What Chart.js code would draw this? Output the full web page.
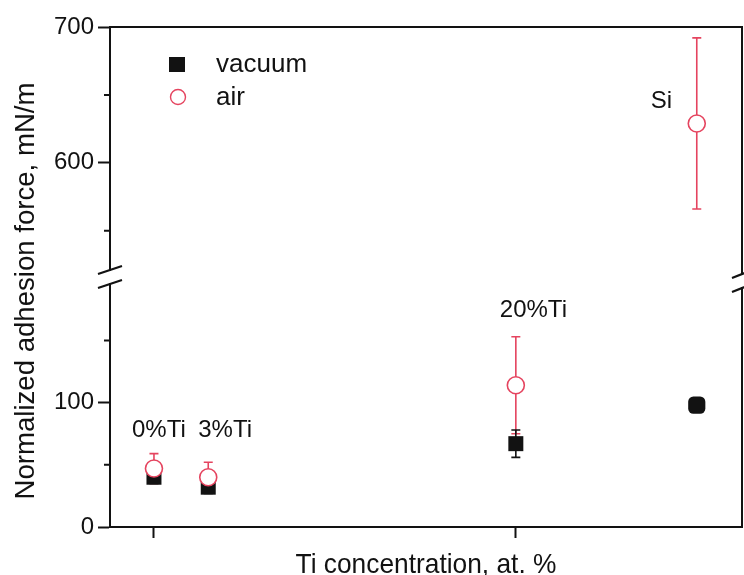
<!DOCTYPE html>
<html><head><meta charset="utf-8">
<script src="https://cdn.jsdelivr.net/npm/chart.js@4"></script>
<style>html,body{margin:0;padding:0;background:#fff}#wrap{width:744px;height:575px}</style>
</head><body><div id="wrap"><canvas id="c" width="744" height="575"></canvas></div>
<script>
// ---- data ----
const categories = ['0%Ti', '3%Ti', '20%Ti', 'Si'];
const tiConcentration = [0, 3, 20, 30];
const vacuum = [40, 32, 67, 98];
const vacuumErr = [5, 5, 11, 3];
const air = [47, 40, 114, 629];
const airErr = [12, 12, 39, 63];
const lowerTicks = [0, 100];
const lowerMinorTicks = [50, 150];
const upperTicks = [600, 700];
const upperMinorTicks = [550, 650];
const xTicks = [0, 20];
const breakValue = 300;

// ---- style ----
const RED = '#e5445f';
const BLACK = '#121212';
const FONT = "'Liberation Sans', Arial, sans-serif";

function splitSeries(values, errs) {
  const lower = [], upper = [];
  values.forEach((v, i) => {
    const p = { x: tiConcentration[i], y: v, err: errs[i], cat: categories[i] };
    (v > breakValue ? upper : lower).push(p);
  });
  return { lower, upper };
}
const airParts = splitSeries(air, airErr);
const vacParts = splitSeries(vacuum, vacuumErr);

const airStyle = { pointStyle: 'circle', pointRadius: 8.5, pointBorderWidth: 1.6,
  pointBorderColor: RED, pointBackgroundColor: '#ffffff', errColor: RED, showLine: false };
const vacStyle = { pointBorderWidth: 0, pointBorderColor: BLACK,
  pointBackgroundColor: BLACK, errColor: BLACK, showLine: false };

const datasets = [];
datasets.push(Object.assign({ label: 'air', data: airParts.lower, yAxisID: 'y' }, airStyle));
if (airParts.upper.length) datasets.push(Object.assign({ label: 'air', data: airParts.upper, yAxisID: 'yTop' }, airStyle));
datasets.push(Object.assign({ label: 'vacuum', data: vacParts.lower, yAxisID: 'y',
  pointStyle: vacParts.lower.map(p => p.cat === 'Si' ? 'rectRounded' : 'rect'),
  pointRadius: vacParts.lower.map(p => p.cat === 'Si' ? 10 : 10.6) }, vacStyle));
if (vacParts.upper.length) datasets.push(Object.assign({ label: 'vacuum', data: vacParts.upper, yAxisID: 'yTop',
  pointStyle: 'rect', pointRadius: 10.6 }, vacStyle));

const errorBars = {
  id: 'errorBars',
  beforeDatasetsDraw(chart) {
    const ctx = chart.ctx;
    chart.data.datasets.forEach((ds, di) => {
      const meta = chart.getDatasetMeta(di);
      const ys = chart.scales[ds.yAxisID];
      ds.data.forEach((p, j) => {
        const el = meta.data[j];
        const top = ys.getPixelForValue(p.y + p.err);
        const bot = ys.getPixelForValue(p.y - p.err);
        ctx.save();
        ctx.strokeStyle = ds.errColor; ctx.lineWidth = 1.6;
        ctx.beginPath();
        ctx.moveTo(el.x, top); ctx.lineTo(el.x, bot);
        ctx.moveTo(el.x - 4.5, top); ctx.lineTo(el.x + 4.5, top);
        ctx.moveTo(el.x - 4.5, bot); ctx.lineTo(el.x + 4.5, bot);
        ctx.stroke();
        ctx.restore();
      });
    });
  }
};

// label placement offsets (pixels) relative to the air point
const labelOffsets = { '0%Ti': [-22, -17], '3%Ti': [-10, -17], '20%Ti': [-16, -20], 'Si': [-46, -15] };

const decor = {
  id: 'decor',
  afterDraw(chart) {
    const ctx = chart.ctx, a = chart.chartArea;
    const yL = chart.scales.y, yT = chart.scales.yTop, xs = chart.scales.x;
    ctx.save();
    // frame top & right
    ctx.strokeStyle = BLACK; ctx.lineWidth = 2;
    ctx.beginPath();
    ctx.moveTo(a.left - 1, a.top); ctx.lineTo(a.right, a.top); ctx.lineTo(a.right, a.bottom + 1);
    ctx.stroke();
    // minor ticks
    ctx.beginPath();
    lowerMinorTicks.forEach(v => { const py = yL.getPixelForValue(v); ctx.moveTo(a.left - 6, py); ctx.lineTo(a.left, py); });
    upperMinorTicks.forEach(v => { const py = yT.getPixelForValue(v); ctx.moveTo(a.left - 6, py); ctx.lineTo(a.left, py); });
    ctx.stroke();
    // axis breaks
    const by = yL.top;
    [a.left, a.right].forEach((ax, k) => {
      const w = k === 0 ? 12 : 10;
      const cy = k === 0 ? by : by + 4;
      ctx.fillStyle = '#fff';
      ctx.fillRect(ax - 3, cy - 6, 6, 12);
      ctx.strokeStyle = BLACK; ctx.lineWidth = 2.2;
      ctx.beginPath();
      ctx.moveTo(ax - w, cy - 3); ctx.lineTo(ax + w, cy - 11);
      ctx.moveTo(ax - w, cy + 11); ctx.lineTo(ax + w, cy + 3);
      ctx.stroke();
    });
    // titles
    ctx.fillStyle = BLACK;
    ctx.textBaseline = 'alphabetic';
    ctx.font = '28px ' + FONT;
    ctx.save();
    ctx.translate((a.left + a.right) / 2, 573);
    ctx.scale(0.94, 1);
    ctx.textAlign = 'center';
    ctx.fillText('Ti concentration, at. %', 0, 0);
    ctx.restore();
    ctx.save();
    ctx.translate(33.5, 291);
    ctx.rotate(-Math.PI / 2);
    ctx.scale(0.985, 1);
    ctx.textAlign = 'center';
    ctx.fillText('Normalized adhesion force, mN/m', 0, 0);
    ctx.restore();
    // legend
    ctx.fillStyle = BLACK;
    ctx.fillRect(169, 57, 16, 15);
    ctx.strokeStyle = RED; ctx.lineWidth = 1.4;
    ctx.beginPath(); ctx.arc(178, 97, 7.5, 0, Math.PI * 2); ctx.stroke();
    ctx.font = '26px ' + FONT; ctx.textAlign = 'left';
    ctx.fillText('vacuum', 216, 72);
    ctx.fillText('air', 216, 105);
    // point labels
    ctx.font = '24px ' + FONT;
    const lowRowTop = Math.min(...airParts.lower.filter(p => p.x < 10).map(p => yL.getPixelForValue(p.y + p.err)));
    categories.forEach((cat, i) => {
      const v = air[i], e = airErr[i];
      const px = xs.getPixelForValue(tiConcentration[i]);
      const off = labelOffsets[cat];
      let py;
      if (v > breakValue) py = yT.getPixelForValue(v);
      else if (tiConcentration[i] < 10) py = lowRowTop;
      else py = yL.getPixelForValue(v + e);
      ctx.fillText(cat, px + off[0], py + off[1]);
    });
    ctx.restore();
  }
};

const yCommon = {
  type: 'linear', position: 'left', stack: 'left', stackWeight: 1, offset: false,
  grid: { display: true, drawOnChartArea: false, drawTicks: true, tickLength: 12, tickWidth: 2, tickColor: BLACK },
  border: { display: true, color: BLACK, width: 2 },
  ticks: { color: BLACK, font: { family: FONT, size: 24 }, padding: 4 },
  afterFit(s) { s.width = 110; }
};

new Chart(document.getElementById('c'), {
  type: 'scatter',
  data: { datasets },
  options: {
    responsive: false, animation: false, devicePixelRatio: 1,
    layout: { autoPadding: false, padding: { top: 27, right: 2, left: 0, bottom: 0 } },
    plugins: { legend: { display: false }, tooltip: { enabled: false } },
    scales: {
      x: {
        type: 'linear', position: 'bottom', min: -2.43, max: 32.5,
        afterBuildTicks(s) { s.ticks = xTicks.map(v => ({ value: v })); },
        grid: { display: true, drawOnChartArea: false, drawTicks: true, tickLength: 11, tickWidth: 2, tickColor: BLACK },
        border: { display: true, color: BLACK, width: 2 },
        ticks: { callback: () => '', font: { size: 8 } },
        afterFit(s) { s.height = 48; }
      },
      y: Object.assign({}, yCommon, { min: 0, max: 201,
        afterBuildTicks(s) { s.ticks = lowerTicks.map(v => ({ value: v })); } }),
      yTop: Object.assign({}, yCommon, { min: 516, max: 700,
        afterBuildTicks(s) { s.ticks = upperTicks.map(v => ({ value: v })); } })
    }
  },
  plugins: [errorBars, decor]
});
</script>
</body></html>
